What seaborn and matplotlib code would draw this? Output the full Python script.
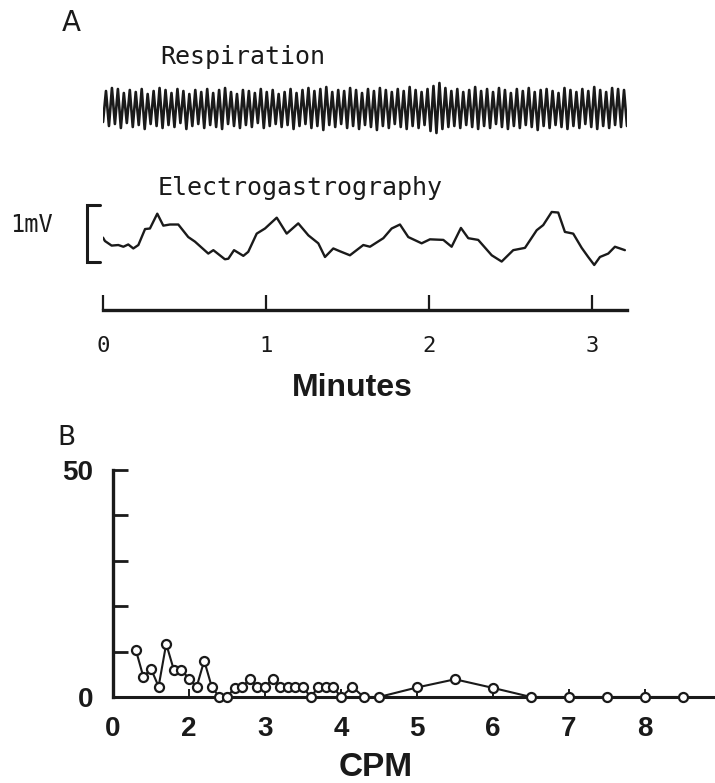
import matplotlib
matplotlib.use("Agg")
import matplotlib.pyplot as plt
import numpy as np
import pandas as pd
import seaborn as sns

# ---- panel A: respiration trace (peak / trough heights, arbitrary units) ----
resp_peaks = [47, 50, 49, 45, 48, 46, 49, 44, 47, 50, 48, 45, 49, 47, 44, 48, 46, 49, 45, 48,
              50, 46, 44, 48, 47, 45, 49, 46, 48, 44,
              46, 49, 45, 48, 50, 47, 49, 51, 46, 48, 47, 50, 48, 45, 49, 47, 50, 48, 46, 49,
              47, 51, 48, 46, 49, 52, 55, 50, 47,
              49, 46, 48, 51, 47, 49, 46, 50, 48, 45, 49, 47, 50, 46, 48, 49, 47, 45, 50, 48,
              46, 49, 47, 51, 48, 46, 50, 49, 48]
resp_troughs = [16, 12, 14, 10, 15, 11, 13, 9, 14, 12, 10, 13, 11, 15, 9, 12, 14, 10, 13, 11,
                9, 14, 12, 10, 13, 11, 15, 10, 12, 14,
                11, 13, 9, 12, 14, 10, 12, 8, 13, 11, 14, 10, 12, 9, 13, 11, 8, 12, 10, 14,
                11, 9, 12, 10, 13, 7, 5, 9, 11, 12,
                10, 13, 11, 9, 12, 10, 14, 11, 9, 12, 10, 13, 11, 8, 12, 10, 13, 11, 9, 12,
                10, 14, 11, 9, 12, 10, 13, 11, 12]
resp_duration = 3.215  # minutes

# ---- panel A: electrogastrography (minutes, mV) ----
egg_time = [0.00, 0.012, 0.053, 0.094, 0.125, 0.155, 0.186, 0.217, 0.258, 0.288, 0.333, 0.370,
            0.411, 0.462, 0.523, 0.564, 0.646, 0.677, 0.748, 0.769, 0.804, 0.861, 0.891, 0.943,
            0.994, 1.066, 1.127, 1.198, 1.260, 1.321, 1.362, 1.413, 1.454, 1.515, 1.556, 1.597,
            1.638, 1.720, 1.771, 1.822, 1.873, 1.955, 2.006, 2.088, 2.139, 2.196, 2.241, 2.302,
            2.385, 2.446, 2.517, 2.589, 2.661, 2.701, 2.753, 2.793, 2.834, 2.885, 2.937, 2.977,
            3.014, 3.049, 3.100, 3.141, 3.182, 3.202]
egg_mv = [0.43, 0.37, 0.29, 0.30, 0.27, 0.31, 0.24, 0.30, 0.58, 0.59, 0.85, 0.64,
          0.66, 0.66, 0.44, 0.36, 0.15, 0.21, 0.05, 0.06, 0.21, 0.11, 0.18, 0.50,
          0.59, 0.78, 0.50, 0.68, 0.47, 0.33, 0.09, 0.24, 0.19, 0.12, 0.21, 0.30,
          0.27, 0.42, 0.59, 0.66, 0.44, 0.33, 0.40, 0.39, 0.27, 0.60, 0.42, 0.39,
          0.12, 0.01, 0.21, 0.25, 0.56, 0.65, 0.88, 0.87, 0.53, 0.50, 0.25, 0.09,
          -0.05, 0.09, 0.15, 0.27, 0.23, 0.21]
minute_ticks = [0, 1, 2, 3]

# ---- panel B: power spectrum ----
cpm = [1.3, 1.4, 1.5, 1.6, 1.7, 1.8, 1.9, 2.0, 2.1, 2.2, 2.3, 2.4, 2.5, 2.6, 2.7, 2.8, 2.9,
       3.0, 3.1, 3.2, 3.3, 3.4, 3.5, 3.6, 3.7, 3.8, 3.9, 4.0, 4.15, 4.3, 4.5,
       5.0, 5.5, 6.0, 6.5, 7.0, 7.5, 8.0, 8.5]
power = [10.4, 4.4, 6.2, 2.3, 11.7, 6.0, 6.0, 4.0, 2.2, 8.0, 2.2, 0, 0, 2.0, 2.2, 4.0, 2.2,
         2.2, 4.0, 2.2, 2.2, 2.2, 2.2, 0, 2.1, 2.1, 2.1, 0, 2.2, 0, 0,
         2.1, 3.9, 2.0, 0, 0, 0, 0, 0]
cpm_ticks = [1, 2, 3, 4, 5, 6, 7, 8]
cpm_tick_labels = ['0', '2', '3', '4', '5', '6', '7', '8']
power_ticks = [0, 10, 20, 30, 40, 50]
power_tick_labels = ['0', '', '', '', '', '50']

sns.set_theme(style="white")
plt.rcParams['font.family'] = ['DejaVu Sans']
MONO = ['DejaVu Sans Mono']
BOLD = ['Liberation Sans', 'DejaVu Sans']
INK = '#1a1a1a'

W, H = 715, 783
fig = plt.figure(figsize=(W / 100, H / 100), dpi=100)


def fx(px):
    return px / W


def fy(py):
    return 1 - py / H


# respiration axes
ax_r = fig.add_axes([fx(103), fy(138), fx(627) - fx(103), (138 - 80) / H])
n = len(resp_peaks)
resp_vals = []
for i in range(n):
    resp_vals.append(resp_troughs[i])
    resp_vals.append(resp_peaks[i])
resp_vals.append(resp_troughs[n])
resp = pd.DataFrame({'t': np.linspace(0, resp_duration, len(resp_vals)), 'v': resp_vals})
sns.lineplot(data=resp, x='t', y='v', ax=ax_r, color=INK, lw=1.9, sort=False, estimator=None)
ax_r.set_xlim(0, resp_duration)
ax_r.set_ylim(0, 58)
ax_r.axis('off')

# EGG axes with time axis as bottom spine
ax_e = fig.add_axes([fx(103), fy(310), fx(627) - fx(103), 110 / H])
egg = pd.DataFrame({'t': egg_time, 'mv': egg_mv})
sns.lineplot(data=egg, x='t', y='mv', ax=ax_e, color=INK, lw=1.7, sort=False, estimator=None)
ax_e.set_xlim(0, resp_duration)
ax_e.set_ylim(-0.84, 1.09)
for s in ['left', 'right', 'top']:
    ax_e.spines[s].set_visible(False)
ax_e.spines['bottom'].set_linewidth(2.4)
ax_e.spines['bottom'].set_color(INK)
ax_e.set_yticks([])
ax_e.set_xticks(minute_ticks)
ax_e.set_xticklabels([str(m) for m in minute_ticks], family=MONO, fontsize=16)
ax_e.tick_params(axis='x', direction='in', length=11, width=1.6, pad=19, colors=INK,
                 bottom=True)
ax_e.set_xlabel('')
ax_e.set_ylabel('')
# 1 mV scale bar
ax_e.plot([-0.018, -0.098, -0.098, -0.018], [1, 1, 0, 0], color=INK, lw=2.2,
          clip_on=False, solid_joinstyle='miter')

# panel B
ax_b = fig.add_axes([fx(113), fy(697), 1 - fx(113), 227 / H])
spec = pd.DataFrame({'cpm': cpm, 'power': power})
sns.lineplot(data=spec, x='cpm', y='power', ax=ax_b, color=INK, lw=1.5, sort=False,
             estimator=None, marker='o', markersize=6.5, markerfacecolor='white',
             markeredgecolor=INK, markeredgewidth=1.6, clip_on=False, zorder=5)
ax_b.set_xlim(1, 1 + 602 / 76)
ax_b.set_ylim(0, 50)
for s in ['right', 'top']:
    ax_b.spines[s].set_visible(False)
ax_b.spines['left'].set_linewidth(2.4)
ax_b.spines['bottom'].set_linewidth(2.2)
ax_b.spines['left'].set_color(INK)
ax_b.spines['bottom'].set_color(INK)
ax_b.set_xticks(cpm_ticks)
ax_b.set_xticklabels(cpm_tick_labels, family=BOLD, fontweight='bold', fontsize=20)
ax_b.set_yticks(power_ticks)
ax_b.set_yticklabels(power_tick_labels, family=BOLD, fontweight='bold', fontsize=20)
ax_b.tick_params(axis='y', direction='in', length=11, width=2.0, pad=14, colors=INK,
                 left=True)
ax_b.tick_params(axis='x', direction='in', length=6, width=1.4, pad=14, colors=INK,
                 bottom=True)
ax_b.set_xlabel('')
ax_b.set_ylabel('')

# text labels
fig.text(fx(71), fy(23), 'A', fontsize=20, ha='center', va='center', color=INK)
fig.text(fx(66), fy(438), 'B', fontsize=19, ha='center', va='center', color=INK)
fig.text(fx(160), fy(57), 'Respiration', family=MONO, fontsize=18, ha='left', va='center',
         color=INK)
fig.text(fx(158), fy(188), 'Electrogastrography', family=MONO, fontsize=18, ha='left',
         va='center', color=INK)
fig.text(fx(10), fy(225), '1mV', family=MONO, fontsize=17, ha='left', va='center',
         color=INK)
fig.text(fx(352), fy(388), 'Minutes', family=BOLD, fontsize=23, fontweight='bold',
         ha='center', va='center', color=INK)
fig.text(fx(376), fy(767), 'CPM', family=BOLD, fontsize=24, fontweight='bold',
         ha='center', va='center', color=INK)

fig.savefig('out.png', dpi=100, facecolor='white')
